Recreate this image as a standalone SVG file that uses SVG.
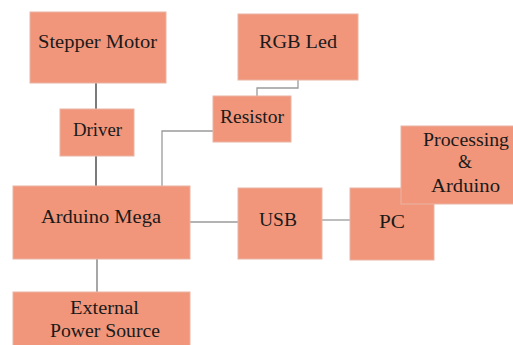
<svg xmlns="http://www.w3.org/2000/svg" width="513" height="345" viewBox="0 0 513 345">
<style>
.box{fill:#F1967A;stroke:#E9B4A4;stroke-width:1}
text{font-family:'Liberation Serif','Times New Roman',serif;font-size:18px;fill:#1a1a1a;text-anchor:middle}
.c{fill:none;stroke:#9a9a9a;stroke-width:1.3}
.d{fill:none;stroke:#333;stroke-width:1.3}
</style>
<rect width="513" height="345" fill="#fff"/>
<g id="connectors">
<line class="d" x1="96" y1="83" x2="96" y2="109"/>
<line class="d" x1="96" y1="156" x2="96" y2="186"/>
<polyline class="c" points="298,80 298,88 257,88 257,96"/>
<polyline class="c" points="213,131 162,131 162,186"/>
<line class="c" x1="190" y1="222" x2="238" y2="222"/>
<line class="c" x1="322" y1="220" x2="350" y2="220"/>
<line class="c" style="stroke:#777" x1="97" y1="259" x2="97" y2="292"/>
</g>
<g id="stepper-motor"><rect class="box" x="30" y="12" width="136" height="71"/><text x="97.5" y="48" textLength="119" lengthAdjust="spacingAndGlyphs">Stepper Motor</text></g>
<g id="driver"><rect class="box" x="60" y="109" width="74" height="47"/><text x="97.5" y="136" textLength="49" lengthAdjust="spacingAndGlyphs">Driver</text></g>
<g id="rgb-led"><rect class="box" x="238" y="14" width="120" height="66"/><text x="298" y="48" textLength="78" lengthAdjust="spacingAndGlyphs">RGB Led</text></g>
<g id="resistor"><rect class="box" x="213" y="96" width="78" height="46"/><text x="252" y="123" textLength="64" lengthAdjust="spacingAndGlyphs">Resistor</text></g>
<g id="arduino-mega"><rect class="box" x="13" y="186" width="177" height="73"/><text x="101" y="223" textLength="120" lengthAdjust="spacingAndGlyphs">Arduino Mega</text></g>
<g id="usb"><rect class="box" x="238" y="188" width="84" height="71"/><text x="278" y="226" textLength="38" lengthAdjust="spacingAndGlyphs">USB</text></g>
<g id="pc"><rect class="box" x="350" y="188" width="84" height="72"/><text x="392" y="228" textLength="26" lengthAdjust="spacingAndGlyphs">PC</text></g>
<g id="processing-arduino"><rect class="box" x="401" y="126" width="114" height="78"/><text x="466" y="146" textLength="86" lengthAdjust="spacingAndGlyphs">Processing</text><text x="465" y="168">&amp;</text><text x="465.5" y="192" textLength="69" lengthAdjust="spacingAndGlyphs">Arduino</text></g>
<g id="external-power-source"><rect class="box" x="13" y="292" width="177" height="56"/><text x="104.5" y="314" textLength="69" lengthAdjust="spacingAndGlyphs">External</text><text x="105" y="337" textLength="110" lengthAdjust="spacingAndGlyphs">Power Source</text></g>
</svg>
